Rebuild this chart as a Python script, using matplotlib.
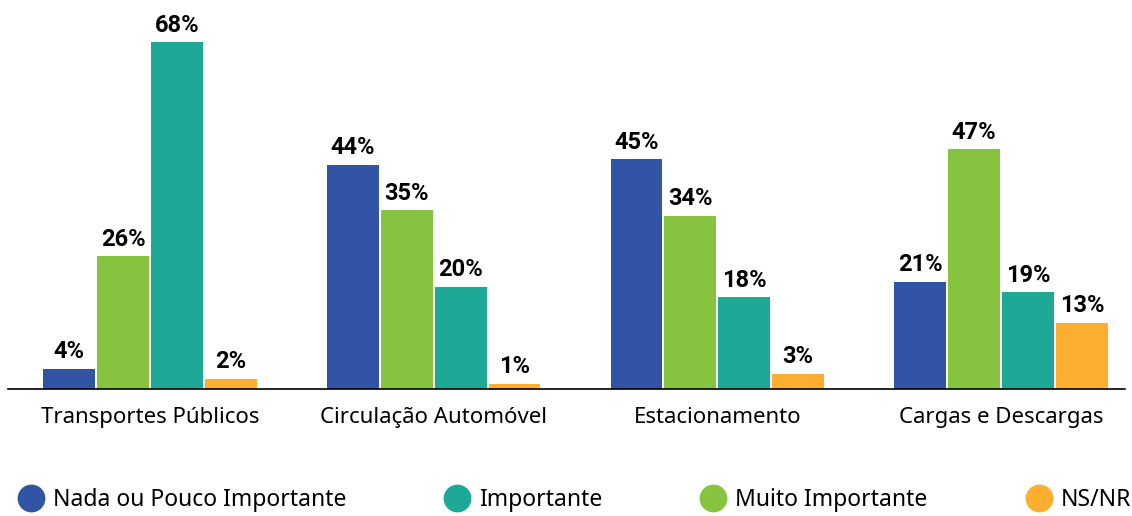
import matplotlib.pyplot as plt
from matplotlib.lines import Line2D

plt.rcParams['font.family'] = ['Noto Sans', 'DejaVu Sans']

categorias = ["Transportes Públicos", "Circulação Automóvel", "Estacionamento", "Cargas e Descargas"]
nada = [4, 44, 45, 21]
muito = [26, 35, 34, 47]
importante = [68, 20, 18, 19]
nsnr = [2, 1, 3, 13]

cores = {"nada": "#3155A4", "importante": "#1EA896", "muito": "#86C440", "nsnr": "#FBAE30"}

fig = plt.figure(figsize=(11.32, 5.16), dpi=100)
ax = fig.add_axes([8 / 1132, 127 / 516, 1117 / 1132, 379 / 516])

w = 0.183
passo = 0.19
series = [(nada, cores["nada"]), (muito, cores["muito"]),
          (importante, cores["importante"]), (nsnr, cores["nsnr"])]
for j, (vals, cor) in enumerate(series):
    xs = [i + (j - 1.5) * passo for i in range(len(categorias))]
    bars = ax.bar(xs, vals, width=w, color=cor)
    for b, v in zip(bars, vals):
        ax.annotate(f"{v}%", (b.get_x() + b.get_width() / 2, v),
                    xytext=(0, 4), textcoords="offset points",
                    ha="center", va="bottom", fontsize=17, fontweight="bold",
                    family=["Roboto", "DejaVu Sans"])

ax.set_xlim(-0.5005, 3.437)
ax.set_ylim(0, 74.3)
ax.set_xticks(range(len(categorias)))
ax.set_xticklabels(categorias, fontsize=16)
ax.tick_params(axis="x", length=0, pad=13)
ax.set_yticks([])
for s in ["top", "right", "left"]:
    ax.spines[s].set_visible(False)
ax.spines["bottom"].set_linewidth(1.2)

handles = [Line2D([], [], marker="o", linestyle="", markersize=19, color=cores[k])
           for k in ["nada", "importante", "muito", "nsnr"]]
labels = ["Nada ou Pouco Importante", "Importante", "Muito Importante", "NS/NR"]
fig.legend(handles, labels, loc="center", bbox_to_anchor=(0.508, 16 / 516), ncol=4,
           frameon=False, fontsize=16.5, columnspacing=4.35, handletextpad=0.45,
           handlelength=1.0)

fig.savefig("out.png", dpi=100)
